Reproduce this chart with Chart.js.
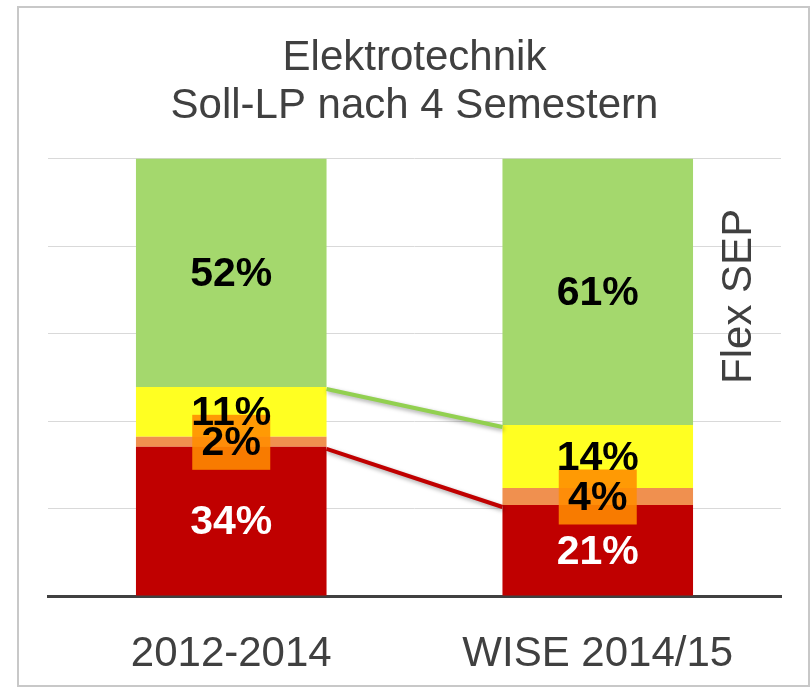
<!DOCTYPE html>
<html>
<head>
<meta charset="utf-8">
<script src="https://cdn.jsdelivr.net/npm/chart.js@4"></script>
<style>
  body { margin: 0; background: #fff; }
  #wrap { position: relative; width: 812px; height: 688px; }
  #rahmen { position: absolute; left: 17px; top: 6px; width: 789px; height: 677px; border: 2px solid #c8c8c8; pointer-events: none; }
</style>
</head>
<body>
<div id="wrap">
  <canvas id="grafik"></canvas>
  <div id="rahmen"></div>
</div>
<script>
// Kategorien und Anteile (in %)
const kategorien = ['2012-2014', 'WISE 2014/15'];
const rot = [34.1, 20.8];
const orange = [2.3, 3.9];
const gelb = [11.4, 14.4];
const gruen = [52.2, 60.9];
const titelZeilen = ['Elektrotechnik', 'Soll-LP nach 4 Semestern'];
const seitenText = 'Flex SEP';

const schrift = 'Arial, "Liberation Sans", sans-serif';
const textFarbe = '#404040';

// Prozentwerte in die Balken schreiben, orange Kaestchen fuer die kleinen Werte
const beschriftung = {
  id: 'beschriftung',
  afterDatasetsDraw(chart) {
    const ctx = chart.ctx;
    ctx.save();
    // zuerst die orangen Kaestchen
    const metaOrange = chart.getDatasetMeta(1);
    metaOrange.data.forEach(bar => {
      const mitte = (bar.y + bar.base) / 2;
      ctx.fillStyle = 'rgba(255, 140, 0, 0.88)';
      ctx.fillRect(bar.x - 39, mitte - 27, 78, 55);
    });
    ctx.font = 'bold 41px ' + schrift;
    ctx.textAlign = 'center';
    ctx.textBaseline = 'middle';
    chart.data.datasets.forEach((ds, i) => {
      const meta = chart.getDatasetMeta(i);
      meta.data.forEach((bar, j) => {
        const mitte = (bar.y + bar.base) / 2;
        ctx.fillStyle = i === 0 ? '#ffffff' : '#000000';
        ctx.fillText(Math.round(ds.data[j]) + '%', bar.x, mitte + 2);
      });
    });
    // Text rechts, gedreht
    const y = chart.scales.y;
    ctx.font = '42px ' + schrift;
    ctx.fillStyle = textFarbe;
    ctx.translate(chart.chartArea.right - 42, y.getPixelForValue(68.5));
    ctx.rotate(-Math.PI / 2);
    ctx.fillText(seitenText, 0, 0);
    ctx.restore();
  }
};

// Verbindungslinien zwischen den Balken
const verbindung = {
  id: 'verbindung',
  afterDatasetsDraw(chart) {
    const ctx = chart.ctx;
    const linien = [[0, '#c00000'], [2, '#92d050']];
    ctx.save();
    ctx.lineWidth = 4;
    ctx.shadowColor = 'rgba(0,0,0,0.35)';
    ctx.shadowBlur = 4;
    ctx.shadowOffsetX = 1;
    ctx.shadowOffsetY = 2;
    linien.forEach(([idx, farbe]) => {
      const d = chart.getDatasetMeta(idx).data;
      ctx.strokeStyle = farbe;
      ctx.beginPath();
      ctx.moveTo(d[0].x + d[0].width / 2, d[0].y + 2);
      ctx.lineTo(d[1].x - d[1].width / 2, d[1].y + 2);
      ctx.stroke();
    });
    ctx.restore();
  }
};

new Chart(document.getElementById('grafik').getContext('2d'), {
  type: 'bar',
  data: {
    labels: kategorien,
    datasets: [
      { label: 'rot', data: rot, backgroundColor: '#c00000' },
      { label: 'orange', data: orange, backgroundColor: '#f0904f' },
      { label: 'gelb', data: gelb, backgroundColor: '#ffff22' },
      { label: 'gruen', data: gruen, backgroundColor: '#a4d86d' }
    ]
  },
  options: {
    responsive: true,
    maintainAspectRatio: false,
    animation: false,
    layout: { padding: { left: 48, right: 31, top: 26, bottom: -24 } },
    datasets: { bar: { barPercentage: 0.52, categoryPercentage: 1 } },
    plugins: {
      legend: { display: false },
      tooltip: { enabled: false },
      title: {
        display: true,
        text: titelZeilen,
        color: textFarbe,
        font: { family: schrift, size: 42, weight: 'normal', lineHeight: 1.15 },
        padding: { top: 8, bottom: 28 }
      }
    },
    scales: {
      x: {
        stacked: true,
        grid: { display: false, drawTicks: false },
        border: { display: true, color: '#404040', width: 3 },
        ticks: { color: textFarbe, font: { family: schrift, size: 42, lineHeight: 1 }, padding: 37 }
      },
      y: {
        stacked: true,
        min: 0,
        max: 100,
        ticks: { display: false, stepSize: 20 },
        grid: { color: '#d9d9d9', lineWidth: 1, drawTicks: false },
        border: { display: false }
      }
    }
  },
  plugins: [verbindung, beschriftung]
});
</script>
</body>
</html>
